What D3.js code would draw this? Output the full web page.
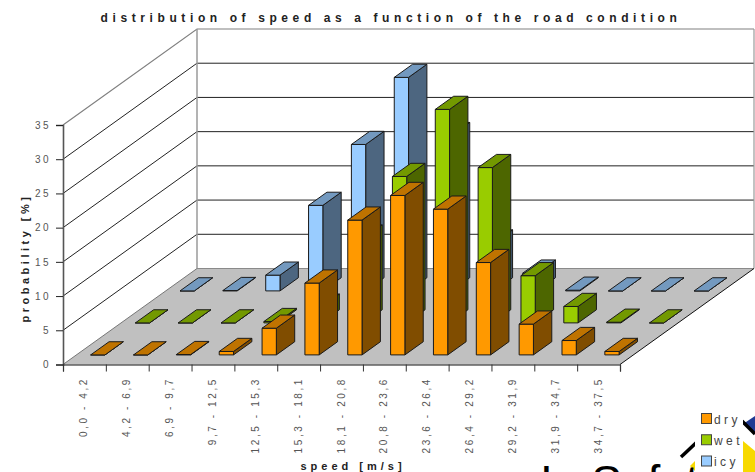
<!DOCTYPE html>
<html>
<head>
<meta charset="utf-8">
<script src="https://cdn.jsdelivr.net/npm/d3@7"></script>
<style>
  html, body { margin: 0; padding: 0; background: #fff; overflow: hidden; }
  text { font-family: "Liberation Sans Narrow", "Liberation Sans", sans-serif; }
</style>
</head>
<body>
<svg id="chart" width="755" height="472"></svg>
<script>
const categories = ["0,0 - 4,2","4,2 - 6,9","6,9 - 9,7","9,7 - 12,5","12,5 - 15,3","15,3 - 18,1","18,1 - 20,8","20,8 - 23,6","23,6 - 26,4","26,4 - 29,2","29,2 - 31,9","31,9 - 34,7","34,7 - 37,5"];
const dry = [0, 0, 0.05, 0.5, 3.9, 10.5, 19.7, 23.3, 21.3, 13.5, 4.5, 2.1, 0.5];
const wet = [0, 0, 0, 0.2, 2.3, 12.4, 21.4, 31.2, 22.7, 6.9, 2.4, 0.1, 0];
const icy = [0, 0.05, 2.3, 12.5, 21.4, 31.2, 22.7, 7, 2.6, 0.1, 0, 0, 0];
const valueTicks = [0, 5, 10, 15, 20, 25, 30, 35];
const seriesNames = ["dry", "wet", "icy"];
const seriesValues = [dry, wet, icy];
const seriesDepths = [0.1, 0.4333, 0.7667];
const frontColors = ["#ff9900", "#99cc00", "#99ccff"];
const topColors = ["#bf7300", "#739900", "#7399bf"];
const sideColors = ["#804d00", "#4d6600", "#4d6680"];

const svg = d3.select("#chart");

// Oblique projection: category and value scales on the front plane, plus a depth shift.
const x = d3.scaleLinear().domain([0, categories.length]).range([63, 620]);
const y = d3.scaleLinear().domain([0, 35]).range([364.5, 125]);
const depthX = d3.scaleLinear().domain([0, 1]).range([0, 134]);
const depthY = d3.scaleLinear().domain([0, 1]).range([0, -96]);
const project = (c, v, z) => [x(c) + depthX(z), y(v) + depthY(z)];
const path = pts => d3.line()(pts) + "Z";

const walls = svg.append("g");
const xMax = categories.length;
walls.append("path").attr("d", path([project(0, 0, 0), project(0, 35, 0), project(0, 35, 1), project(0, 0, 1)])).attr("fill", "#fff");
walls.append("path").attr("d", path([project(0, 0, 1), project(0, 35, 1), project(xMax, 35, 1), project(xMax, 0, 1)]))
  .attr("fill", "#fff");
walls.append("path").attr("d", path([project(0, 0, 0), project(0, 0, 1), project(xMax, 0, 1), project(xMax, 0, 0)]))
  .attr("fill", "#c0c0c0");

// Gridlines across the left and back walls
valueTicks.slice(1).forEach(v => {
  const stroke = v === 35 ? "#808080" : "#222";
  walls.append("path").attr("d", d3.line()([project(0, v, 0), project(0, v, 1), project(xMax, v, 1)]))
    .attr("fill", "none").attr("stroke", stroke).attr("stroke-width", v === 35 ? 1.2 : 1);
});
walls.append("path").attr("d", d3.line()([project(0, 0, 1), project(0, 35, 1)])).attr("stroke", "#9a9a9a").attr("stroke-width", 1.5);
walls.append("path").attr("d", d3.line()([project(xMax, 0, 1), project(xMax, 35, 1)])).attr("stroke", "#9a9a9a").attr("stroke-width", 1.2);
walls.append("path").attr("d", d3.line()([project(0, 0, 1), project(xMax, 0, 1)])).attr("stroke", "#8a8a8a").attr("stroke-width", 1.2);
walls.append("path").attr("d", d3.line()([project(0, 0, 0), project(0, 0, 1)])).attr("stroke", "#777").attr("stroke-width", 1);
walls.append("path").attr("d", d3.line()([project(xMax, 0, 0), project(xMax, 0, 1)])).attr("stroke", "#111").attr("stroke-width", 1);

// Company logo sitting behind the legend box
const logo = svg.append("g");
logo.append("path").attr("d", "M743 424L755 416L755 433Z").attr("fill", "#1f3a93");
logo.append("path").attr("d", "M742 421L755 434").attr("stroke", "#000").attr("stroke-width", 3.5);
logo.append("path").attr("d", "M681 457L697 442").attr("stroke", "#000").attr("stroke-width", 3.5);
logo.append("path").attr("d", "M743 441L755 451L755 472L743 472Z").attr("fill", "#f7d900");
logo.append("path").attr("d", "M690 466L696 460L696 472Z").attr("fill", "#f7d900");
svg.append("text").attr("x", 540).attr("y", 498).attr("font-size", 46)
  .style("font-family", "'Liberation Sans', sans-serif").attr("fill", "#000").text("In Safety");

// Bars, painted back row first so the nearer rows overlap them
const barInset = 1 / 3;
const barDepth = 0.137;
[2, 1, 0].forEach(s => {
  const row = svg.append("g").attr("stroke", "#1a1a1a").attr("stroke-width", 1).attr("stroke-linejoin", "round");
  const z0 = seriesDepths[s], z1 = z0 + barDepth;
  const group = row.selectAll("g").data(seriesValues[s]).join("g");
  group.append("path").attr("fill", sideColors[s]).attr("d", (v, i) => path([
    project(i + 1 - barInset, 0, z0), project(i + 1 - barInset, v, z0),
    project(i + 1 - barInset, v, z1), project(i + 1 - barInset, 0, z1)]));
  group.append("path").attr("fill", frontColors[s]).attr("d", (v, i) => path([
    project(i + barInset, 0, z0), project(i + barInset, v, z0),
    project(i + 1 - barInset, v, z0), project(i + 1 - barInset, 0, z0)]));
  group.append("path").attr("fill", topColors[s]).attr("d", (v, i) => path([
    project(i + barInset, v, z0), project(i + barInset, v, z1),
    project(i + 1 - barInset, v, z1), project(i + 1 - barInset, v, z0)]));
});

// Value axis
const spaced = (sel, spacing) => sel.style("letter-spacing", spacing + "px");
const yAxis = d3.axisLeft(y).tickValues(valueTicks).tickSize(7).tickPadding(5).tickFormat(d3.format("d"));
const yg = svg.append("g").attr("transform", "translate(63,0)").call(yAxis);
yg.select(".domain").attr("stroke", "#555").attr("stroke-width", 1.6);
yg.selectAll(".tick line").attr("stroke", "#222");
spaced(yg.selectAll("text").attr("font-size", 10).attr("fill", "#555").style("font-family", null), 2.5);

// Category axis with labels turned to read upward
const xAxis = d3.axisBottom(x).tickValues(d3.range(0, xMax + 1)).tickSize(7).tickFormat("");
const xg = svg.append("g").attr("transform", "translate(0,364.5)").call(xAxis);
xg.select(".domain").attr("stroke", "#111").attr("stroke-width", 1.2);
xg.selectAll(".tick line").attr("stroke", "#333");
const catLabels = svg.append("g").selectAll("text").data(categories).join("text")
  .attr("transform", (d, i) => `translate(${x(i + 0.5) + 3},377) rotate(-90)`)
  .attr("text-anchor", "end").attr("font-size", 10).attr("fill", "#555").text(d => d);
spaced(catLabels, 2.6);

// Chart and axis titles
spaced(svg.append("text").attr("x", 391).attr("y", 22).attr("text-anchor", "middle")
  .attr("font-size", 12).attr("font-weight", "bold").attr("fill", "#222")
  .text("distribution of speed as a function of the road condition"), 4.6);
spaced(svg.append("text").attr("x", 353).attr("y", 470).attr("text-anchor", "middle")
  .attr("font-size", 11).attr("font-weight", "bold").attr("fill", "#222").text("speed [m/s]"), 4);
spaced(svg.append("text").attr("transform", "translate(29,258) rotate(-90)").attr("text-anchor", "middle")
  .attr("font-size", 11).attr("font-weight", "bold").attr("fill", "#222").text("probability [%]"), 3.5);

// Legend
const legend = svg.append("g");
legend.append("rect").attr("x", 695).attr("y", 405).attr("width", 48).attr("height", 67).attr("fill", "#fff");
const legendY = d3.scalePoint().domain(seriesNames).range([418.5, 461]);
seriesNames.forEach((name, i) => {
  legend.append("rect").attr("x", 701.5).attr("y", legendY(name) - 5).attr("width", 10).attr("height", 10)
    .attr("fill", frontColors[i]).attr("stroke", "#444");
  spaced(legend.append("text").attr("x", 714).attr("y", legendY(name) + 5).attr("font-size", 12).attr("fill", "#444").text(name), 3.4);
});
</script>
</body>
</html>
